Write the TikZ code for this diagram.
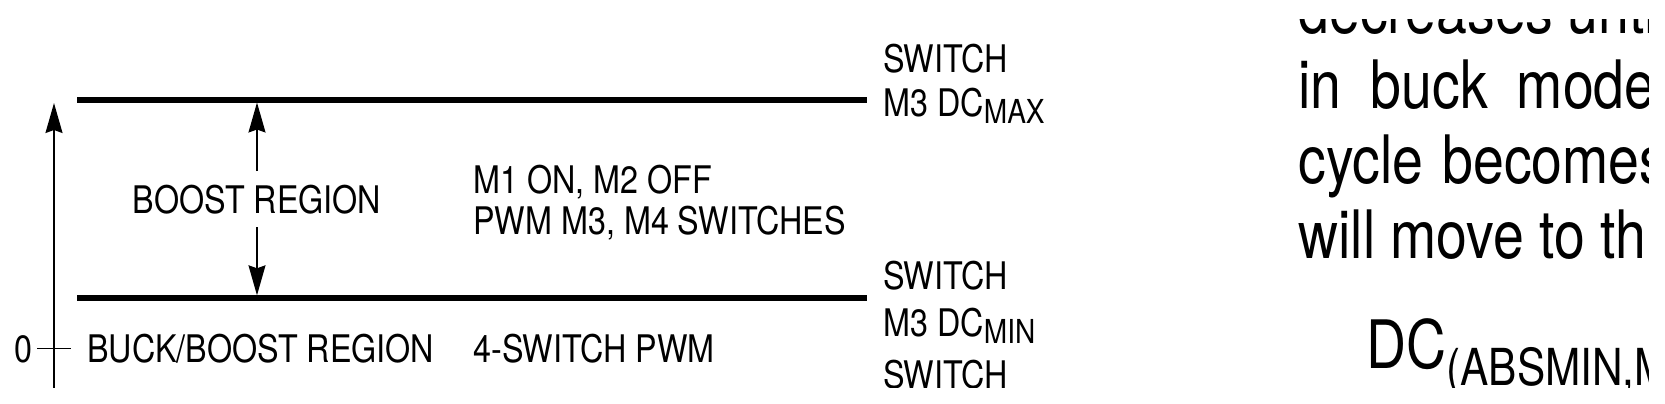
\documentclass[tikz,border=0pt]{standalone}
\usepackage{fontspec}
\newfontfamily\figfont[FakeStretch=0.85]{TeX Gyre Heros}
\newfontfamily\txtfont[FakeStretch=0.83]{TeX Gyre Heros}
\usetikzlibrary{arrows.meta,positioning}
\newcommand{\lowsub}[1]{\raisebox{-3.6pt}{\fontsize{16.5}{16.5}\selectfont #1}}
\newcommand{\bigsub}[1]{\raisebox{-8.5pt}{\fontsize{25.5}{28}\selectfont #1}}

\begin{document}
\begin{tikzpicture}[
  x=0.5pt,y=-0.5pt,
  lbl/.style={anchor=base west,inner sep=0pt,font=\figfont\fontsize{19}{22}\selectfont},
  body/.style={anchor=base west,inner sep=0pt,font=\txtfont\fontsize{33.4}{40}\selectfont},
  jus/.style={body,execute at begin node={\spaceskip=#1\relax}},
  jus/.default=14.5pt,
  level/.style={line width=3pt},
  thin/.style={line width=0.65pt},
  arr/.style={line width=0.65pt,-{Stealth[length=15pt,width=8.5pt,inset=1.5pt]}}
]
\useasboundingbox (0,0) rectangle (1665,403);
\clip (0,19) rectangle (1648,387);
\coordinate (ytop) at (54,103);
\coordinate (ybot) at (54,400);
\coordinate (tk0) at (37,348.3);
\coordinate (tk1) at (71,348.3);
\coordinate (maxl) at (77,99.5);
\coordinate (maxr) at (867,99.5);
\coordinate (minl) at (77,298.3);
\coordinate (minr) at (867,298.3);
\draw[arr] (ybot) -- (ytop);
\draw[thin] (tk0) -- (tk1);
\node[lbl,anchor=base] (zero) at (23.5,362) {0};
\foreach \a/\b in {maxl/maxr,minl/minr} \draw[level] (\a) -- (\b);
\node[lbl,anchor=base,inner ysep=6.5pt] (boost) at (257,213) {BOOST REGION};
\draw[arr,shorten >=1.5pt] (boost.north) -- (boost.north |- maxl);
\draw[arr,shorten >=1.5pt] (boost.south) -- (boost.south |- minl);
\node[lbl] (m1on) at (473,193) {M1 ON, M2 OFF};
\node[lbl] (pwm) at (473,234) {PWM M3, M4 SWITCHES};
\node[lbl] (bbreg) at (87,362) {BUCK/BOOST REGION};
\node[lbl] (fourpwm) at (473,362) {4-SWITCH PWM};
\node[lbl] (swa) at (883,72.7) {SWITCH};
\node[lbl] (dcmax) at (883,116) {M3 DC\lowsub{MAX}};
\node[lbl] (swb) at (883,289) {SWITCH};
\node[lbl] (dcmin) at (883,336) {M3 DC\lowsub{MIN}};
\node[lbl] (swc) at (883,388.5) {SWITCH};
\node[jus=7pt] (lna) at (1298,33) {decreases until};
\node[jus] (lnb) at (1298,108) {in buck mode};
\node[jus=9.5pt] (lnc) at (1298,183) {cycle becomes};
\node[body] (lnd) at (1298,258) {will move to th};
\node[body] (dcabs) at (1366,368) {DC\bigsub{(ABSMIN,M}};
\end{tikzpicture}
\end{document}
